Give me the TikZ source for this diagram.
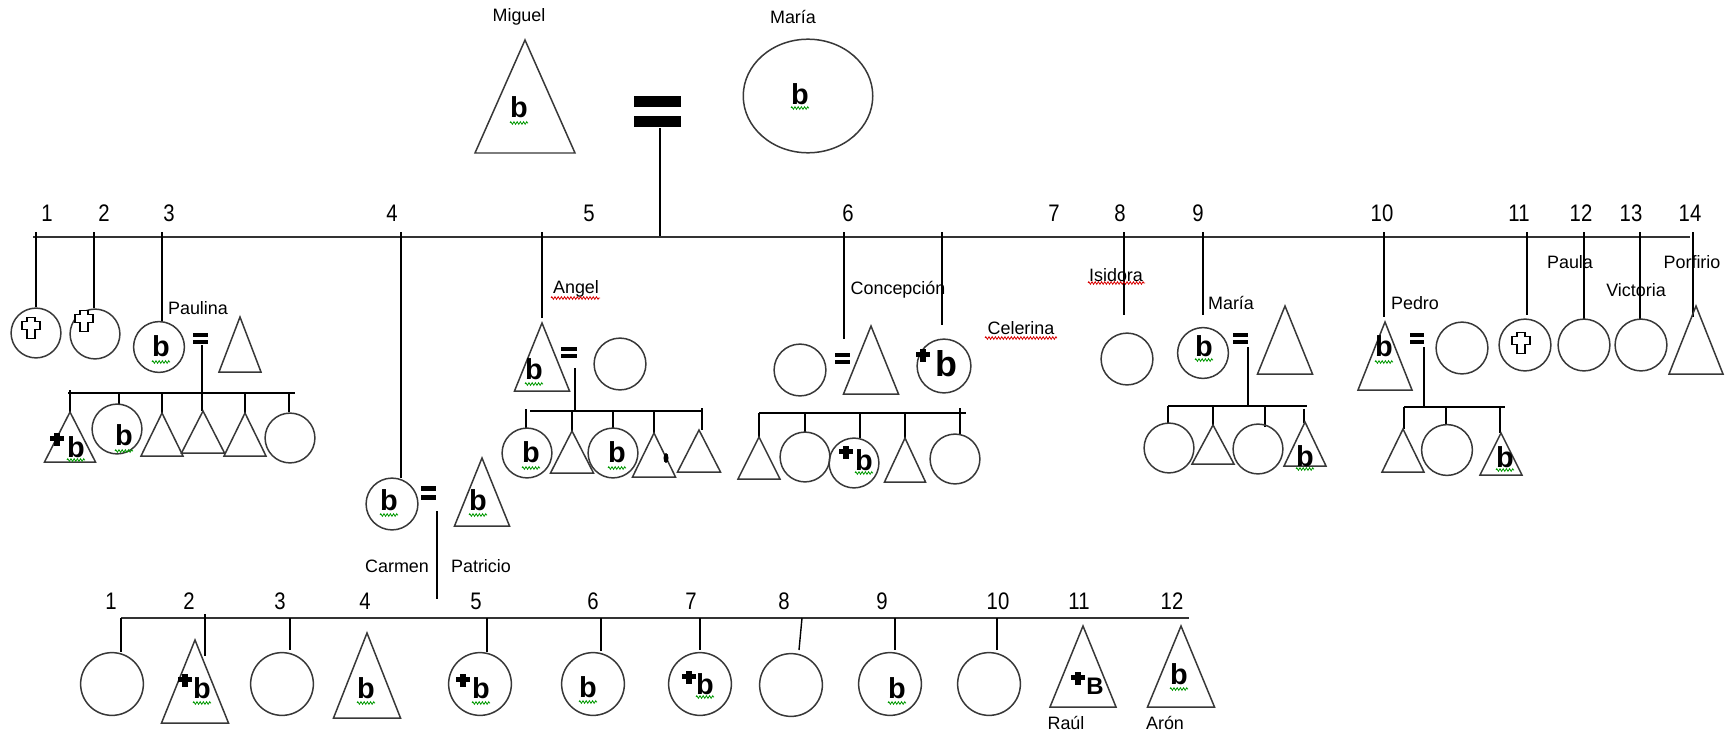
\documentclass[tikz,border=0pt]{standalone}
\usepackage{fontspec}
\usepackage{graphicx}
\setmainfont{Liberation Sans}
\usetikzlibrary{shapes.geometric,decorations.pathmorphing}

\tikzset{
  shp/.style={draw=black!78, line width=1.5pt},
  per/.style={shp, circle, inner sep=0pt, minimum size=#1},
  ln/.style={draw=black, line width=1.4pt},
  axisln/.style={draw=black!80, line width=2.6pt},
  lbl/.style={inner sep=0pt, font=\fontsize{18}{20}\selectfont},
  num/.style={inner sep=0pt, font=\fontsize{24}{26}\selectfont},
  bee/.style={inner sep=0pt, font=\bfseries\fontsize{29}{29}\selectfont},
  wavy/.style={decorate, decoration={zigzag, segment length=3.2pt, amplitude=1.3pt}, line width=0.8pt},
  gsq/.style={wavy, draw=green!60!black},
  rsq/.style={wavy, draw=red!85!black},
}

% triangle (male): name, apex x, apex y, half base, height
\newcommand\Tri[5]{\draw[shp, line join=miter] (#2,#3) coordinate (#1) -- ++(#4,#5) -- ++({-2*(#4)},0) -- cycle;}
% bold b with green underline
\newcommand\Bee[4]{\node[bee] (#1) at (#2,#3) {b};\draw[gsq] ({#2-9},#4) -- ({#2+9},#4);}
% small filled cross
\newcommand\Crs[2]{\fill ({#1-3},{#2-6.5}) rectangle ({#1+3},{#2+6.5});\fill ({#1-7},{#2-3.5}) rectangle ({#1+7},{#2+1.5});}
% outlined cross
\newcommand\OCrs[2]{\draw[line width=1.3pt,fill=white,line join=miter] ({#1-4},{#2-10.5}) -- ({#1+4},{#2-10.5}) -- ({#1+4},{#2-6.5}) -- ({#1+9},{#2-6.5}) -- ({#1+9},{#2+1.5}) -- ({#1+4},{#2+1.5}) -- ({#1+4},{#2+10.5}) -- ({#1-4},{#2+10.5}) -- ({#1-4},{#2+1.5}) -- ({#1-9},{#2+1.5}) -- ({#1-9},{#2-6.5}) -- ({#1-4},{#2-6.5}) -- cycle;}
% marriage sign: name, x1, x2, top y, bar thickness
\newcommand\Eqs[5]{\fill (#2,#4) rectangle (#3,{#4+#5}); \fill (#2,{#4+1.8*#5}) rectangle (#3,{#4+2.8*#5}); \coordinate (#1) at ({(#2+#3)/2},{#4+2.8*#5});}

\begin{document}
\begin{tikzpicture}[x=1bp,y=-1bp]
\useasboundingbox (0,0) rectangle (1730,736);
\fill[white] (0,0) rectangle (1730,736);

% ---------- founding couple ----------
\node[lbl] (lmiguel) at (519,17) {Miguel};
\node[lbl] (lmaria) at (793,17) {María};
\Tri{miguel}{525}{40}{50}{113}
\Bee{bmiguel}{519}{107}{123}
\node[shp, ellipse, minimum width=130, minimum height=114, inner sep=0pt] (maria) at (808,96) {};
\Bee{bmaria}{800}{94}{108}
\Eqs{eq0}{634}{681}{96}{11}
\coordinate (top) at (660,237);
\draw[ln] (660,128) -- (top);

% ---------- children line ----------
\coordinate (axL) at (33,237);
\coordinate (axR) at (1690,237);
\draw[axisln] (axL) -- (axR);
\foreach \n/\x in {1/47,2/104,3/169,4/392,5/589,6/848,7/1054,8/1120,9/1198,10/1382,11/1519,12/1581,13/1631,14/1690}
  \node[num] (t\n) at (\x,213) {\scalebox{0.85}[1]{\n}};
\foreach \x/\y in {36/307,94/308,162/321,401/478,542/318,844/339,942/325,1124/315,1203/315,1384/317,1527/315,1584/319,1640/319,1693/317}
  \draw[ln] (\x,232) -- (\x,\y);

% ---------- 1, 2 ----------
\node[per=50] (c1) at (36,333) {};
\OCrs{31}{328}
\node[per=50] (c2) at (95,334) {};
\OCrs{84}{321}

% ---------- 3: Paulina ----------
\node[per=51] (paulina) at (159,347) {};
\Bee{bpaulina}{161}{346}{362}
\node[lbl] (lpaulina) at (198,308) {Paulina};
\Eqs{eq3}{193}{208}{333}{4}
\Tri{pauhus}{240}{317}{21}{55}
\draw[ln] (202,345) -- (202,393);
\draw[ln] (68,393) -- (295,393);
\draw[ln] (70,390) -- (70,412);
\draw[ln] (119,393) -- (119,404);
\draw[ln] (162,393) -- (162,413);
\draw[ln] (202,393) -- (202,411);
\draw[ln] (245,393) -- (245,413);
\draw[ln] (289,393) -- (289,412);
\Tri{p1}{70}{412}{25.5}{50}
\Crs{57}{439}
\Bee{bp1}{76}{447}{460}
\node[per=50] (p2) at (117,429) {};
\Bee{bp2}{124}{435}{451}
\Tri{p3}{162}{413}{21}{43}
\Tri{p4}{203}{411}{21.5}{42}
\Tri{p5}{245}{413}{21}{43}
\node[per=50] (p6) at (290,438) {};

% ---------- 4: Carmen ----------
\node[per=52] (carmen) at (392,504) {};
\Bee{bcarmen}{389}{500}{515}
\Eqs{eq4}{421}{436}{486}{5}
\Tri{patricio}{482}{458}{27.5}{68}
\Bee{bpatricio}{478}{500}{515}
\draw[ln] (437,511) -- (437,599);
\node[lbl] (lcarmen) at (397,566) {Carmen};
\node[lbl] (lpatricio) at (481,566) {Patricio};

% ---------- 5: Angel ----------
\node[lbl] (langel) at (576,289) {Angel};
\draw[rsq] (551,298) -- (600,298);
\Tri{angel}{542}{323}{27.5}{68}
\Bee{bangel}{534}{369}{384}
\Eqs{eq5}{561}{577}{347}{4}
\node[per=52] (angwife) at (620,364) {};
\draw[ln] (575,368) -- (575,411);
\draw[ln] (530,411) -- (702,411);
\draw[ln] (526,409) -- (526,428);
\draw[ln] (572,411) -- (572,431);
\draw[ln] (613,411) -- (613,428);
\draw[ln] (654,411) -- (654,433);
\draw[ln] (702,408) -- (702,430);
\node[per=50] (a1) at (527,453) {};
\Bee{ba1}{531}{452}{468}
\Tri{a2}{572}{431}{21.5}{42}
\node[per=50] (a3) at (613,453) {};
\Bee{ba3}{617}{452}{468}
\Tri{a4}{654}{433}{21.5}{44}
\fill (666,458) ellipse (2.5 and 5);
\Tri{a5}{699}{430}{21.5}{42}

% ---------- 6: Concepción, 7: Celerina ----------
\node[lbl] (lconcepcion) at (898,290) {Concepción};
\node[per=52] (conwife) at (800,370) {};
\Eqs{eq6}{835}{850}{353}{4}
\Tri{concepcion}{871}{326}{27.5}{68}
\node[per=54] (celerina) at (944,366) {};
\Crs{923}{355}
\node[bee, font=\bfseries\fontsize{36}{36}\selectfont] (bceler) at (946,364) {b};
\node[lbl] (lceler) at (1021,328) {Celerina};
\draw[rsq] (985,338) -- (1057,338);
\draw[ln] (759,413) -- (966,413);
\draw[ln] (759,413) -- (759,437);
\draw[ln] (805,413) -- (805,432);
\draw[ln] (860,413) -- (860,438);
\draw[ln] (905,413) -- (905,438);
\draw[ln] (960,408) -- (960,434);
\Tri{k1}{759}{437}{21}{42}
\node[per=50] (k2) at (805,457) {};
\node[per=50] (k3) at (854,463) {};
\Crs{846}{452}
\Bee{bk3}{864}{460}{473}
\Tri{k4}{905}{438}{20.5}{44}
\node[per=50] (k5) at (955,459) {};

% ---------- 8: Isidora ----------
\node[lbl] (lisidora) at (1116,275) {Isidora};
\draw[rsq] (1088,283) -- (1145,283);
\node[per=52] (isidora) at (1127,359) {};

% ---------- 9: María ----------
\node[lbl] (lmaria9) at (1231,303) {María};
\node[per=51] (maria9) at (1203,353) {};
\Bee{bmaria9}{1204}{346}{360}
\Eqs{eq9}{1233}{1248}{333}{4}
\Tri{mahus}{1285}{306}{27.5}{68}
\draw[ln] (1248,347) -- (1248,406);
\draw[ln] (1168,406) -- (1307,406);
\draw[ln] (1168,406) -- (1168,424);
\draw[ln] (1213,406) -- (1213,425);
\draw[ln] (1265,406) -- (1265,427);
\draw[ln] (1304,409) -- (1304,423);
\node[per=50] (m1) at (1169,448) {};
\Tri{m2}{1213}{425}{21}{39}
\node[per=50] (m3) at (1258,449) {};
\Tri{m4}{1305}{422}{21}{44}
\Bee{bm4}{1305}{456}{469}

% ---------- 10: Pedro ----------
\node[lbl] (lpedro) at (1415,303) {Pedro};
\Tri{pedro}{1385}{322}{27}{68}
\Bee{bpedro}{1384}{346}{362}
\Eqs{eq10}{1410}{1424}{333}{4}
\node[per=52] (pedwife) at (1462,348) {};
\draw[ln] (1424,347) -- (1424,407);
\draw[ln] (1404,407) -- (1505,407);
\draw[ln] (1404,407) -- (1404,429);
\draw[ln] (1446,407) -- (1446,425);
\draw[ln] (1500,407) -- (1500,433);
\Tri{d1}{1403}{429}{21}{43}
\node[per=51] (d2) at (1447,450) {};
\Tri{d3}{1501}{433}{21}{42}
\Bee{bd3}{1505}{457}{470}

% ---------- 11 - 14 ----------
\node[per=52] (c11) at (1525,345) {};
\OCrs{1521}{343}
\node[lbl] (lpaula) at (1570,262) {Paula};
\node[per=52] (paula) at (1584,345) {};
\node[lbl] (lvictoria) at (1636,290) {Victoria};
\node[per=52] (victoria) at (1641,345) {};
\node[lbl] (lporfirio) at (1692,262) {Porfirio};
\Tri{porfirio}{1696}{306}{27}{68}

% ---------- Carmen and Patricio's children ----------
\coordinate (bL) at (121,618);
\coordinate (bR) at (1189,618);
\draw[axisln, line width=2.2pt] (bL) -- (bR);
\foreach \n/\x in {1/111,2/189,3/280,4/365,5/476,6/593,7/691,8/784,9/882,10/998,11/1079,12/1172}
  \node[num] (s\n) at (\x,601) {\scalebox{0.85}[1]{\n}};
\draw[ln] (121,618) -- (121,652);
\draw[ln] (205,614) -- (205,656);
\draw[ln] (290,618) -- (290,650);
\draw[ln] (487,618) -- (487,652);
\draw[ln] (601,618) -- (601,651);
\draw[ln] (700,618) -- (700,650);
\draw[ln] (802,618) -- (799,650);
\draw[ln] (895,618) -- (895,650);
\draw[ln] (997,618) -- (997,650);

\node[per=63] (g1) at (112,684) {};
\Tri{g2}{195}{640}{33.5}{83}
\Crs{185}{680}
\Bee{bg2}{202}{688}{703}
\node[per=63] (g3) at (282,684) {};
\Tri{g4}{367}{633}{33.5}{85}
\Bee{bg4}{366}{688}{703}
\node[per=63] (g5) at (480,684) {};
\Crs{463}{680}
\Bee{bg5}{481}{688}{703}
\node[per=63] (g6) at (593,684) {};
\Bee{bg6}{588}{687}{702}
\node[per=63] (g7) at (700,684) {};
\Crs{689}{677}
\Bee{bg7}{705}{684}{697}
\node[per=63] (g8) at (791,685) {};
\node[per=63] (g9) at (890,684) {};
\Bee{bg9}{897}{688}{703}
\node[per=63] (g10) at (989,684) {};
\Tri{raul}{1083}{626}{33}{81}
\Crs{1078}{678}
\node[bee, font=\bfseries\fontsize{24}{24}\selectfont] (braul) at (1095,686) {B};
\node[lbl] (lraul) at (1066,723) {Raúl};
\Tri{aron}{1181}{626}{33.5}{81}
\Bee{baron}{1179}{674}{689}
\node[lbl] (laron) at (1165,723) {Arón};

\end{tikzpicture}
\end{document}
